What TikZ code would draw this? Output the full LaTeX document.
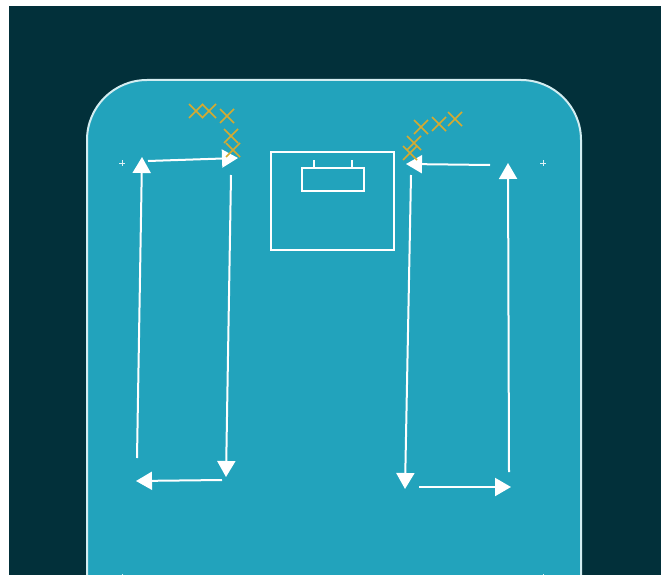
\documentclass[tikz,border=0pt]{standalone}
\usepackage{tikz}
\usetikzlibrary{arrows.meta,calc,positioning}
\definecolor{PitchDark}{RGB}{2,48,58}
\definecolor{PitchBlue}{RGB}{34,163,188}
\definecolor{ConeGold}{RGB}{214,170,48}

\tikzset{
  run/.style={white,line width=2pt,-{Triangle[width=18pt,length=16pt]}},
  cone/.style={ConeGold,line width=1.6pt},
  spot/.style={white!85!PitchBlue,line width=0.8pt}
}
\newcommand{\conemark}[2]{%
  \draw[cone] (#1-7,#2-7) -- (#1+7,#2+7) (#1-7,#2+7) -- (#1+7,#2-7);}
\newcommand{\spotmark}[2]{%
  \draw[spot] (#1-3,#2) -- (#1+3,#2) (#1,#2-3) -- (#1,#2+3);}

\begin{document}
\begin{tikzpicture}[x=1pt,y=-1pt,>=Stealth]
    \useasboundingbox (0,0) rectangle (661,575);
    \clip (0,0) rectangle (661,575);
    \fill[white] (0,0) rectangle (661,575);
    \fill[PitchDark] (9,6) rectangle (661,575);
    % pitch
    \draw[PitchBlue!20!white,line width=2pt,fill=PitchBlue,rounded corners=60]
      (87,620) -- (87,80) -- (581,80) -- (581,620);
    \spotmark{122}{163}
    \spotmark{543}{163}
    \spotmark{122}{577}
    \spotmark{543}{577}
    % goal area
    \draw[white,line width=1.6pt] (271,152) rectangle (394,250);
    \draw[white,line width=1.6pt] (302,168) rectangle (364,191);
    \draw[white,line width=1.6pt] (314,168) -- (314,160) (352,168) -- (352,160);
    % left loop
    \coordinate (l1) at (137,458);
    \coordinate (l2) at (142,157);
    \coordinate (l3) at (148,161);
    \coordinate (l4) at (238,158);
    \coordinate (l5) at (231,175);
    \coordinate (l6) at (226,477);
    \coordinate (l7) at (222,480);
    \coordinate (l8) at (136,481);
    \draw[run] (l1) -- (l2);
    \draw[run] (l3) -- (l4);
    \draw[run] (l5) -- (l6);
    \draw[run] (l7) -- (l8);
    % right loop
    \coordinate (r1) at (490,165);
    \coordinate (r2) at (406,164);
    \coordinate (r3) at (411,175);
    \coordinate (r4) at (405,489);
    \coordinate (r5) at (419,487);
    \coordinate (r6) at (511,487);
    \coordinate (r7) at (509,472);
    \coordinate (r8) at (508,163);
    \draw[run] (r1) -- (r2);
    \draw[run] (r3) -- (r4);
    \draw[run] (r5) -- (r6);
    \draw[run] (r7) -- (r8);
    % cones
    \conemark{196}{111}
    \conemark{209}{111}
    \conemark{227}{116}
    \conemark{231}{136}
    \conemark{233}{150}
    \conemark{455}{119}
    \conemark{439}{124}
    \conemark{421}{127}
    \conemark{414}{143}
    \conemark{410}{153}
\end{tikzpicture}
\end{document}
